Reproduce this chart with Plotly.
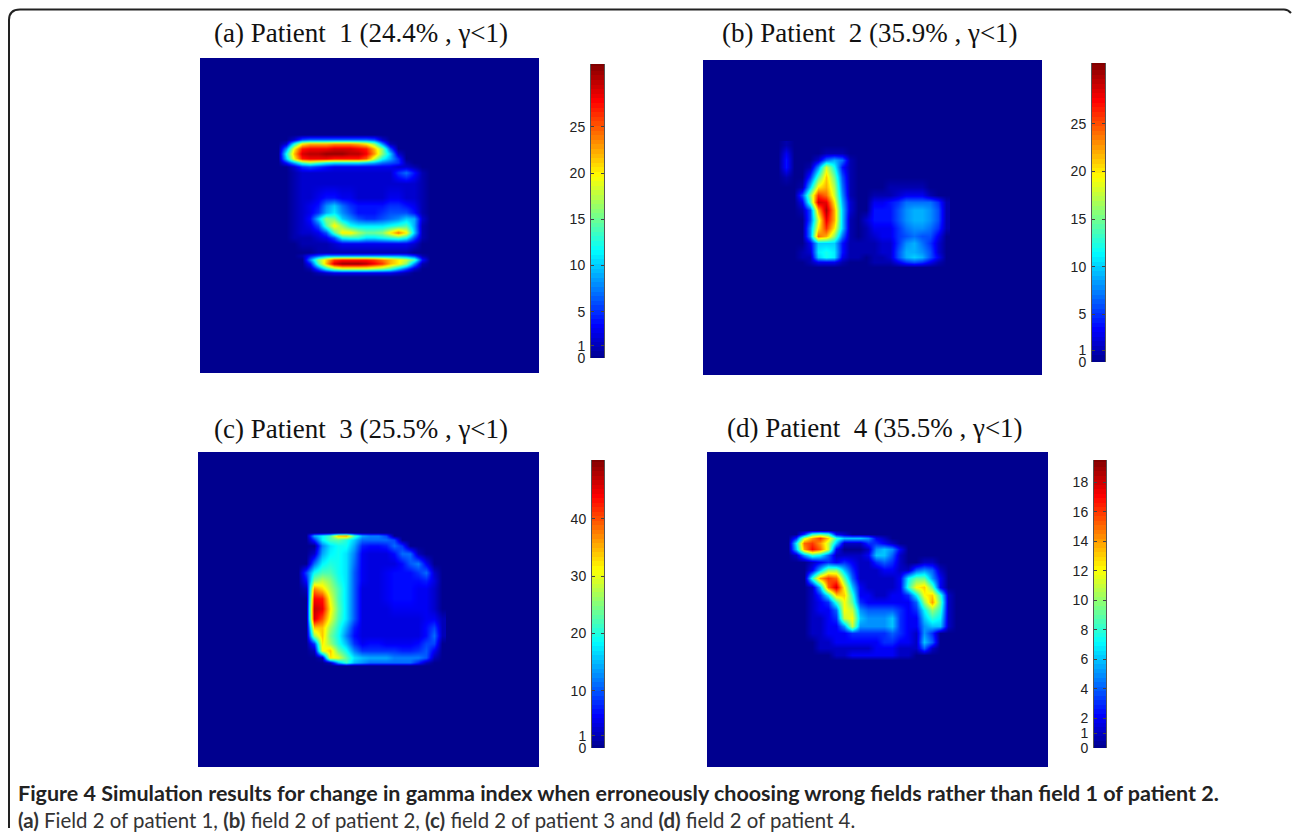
import plotly.graph_objects as go

W, H = 1292, 836
K = 0.9905  # vertical correction measured against the returned picture

titles = ["(a) Patient\u00a0\u00a01 (24.4%\u00a0, γ<1)", "(b) Patient\u00a0\u00a02 (35.9%\u00a0, γ<1)",
          "(c) Patient\u00a0\u00a03 (25.5%\u00a0, γ<1)", "(d) Patient\u00a0\u00a04 (35.5%\u00a0, γ<1)"]
caption_bold = "Figure 4 Simulation results for change in gamma index when erroneously choosing wrong fields rather than field 1 of patient 2."
caption_plain = "<b>(a)</b> Field 2 of patient 1, <b>(b)</b> field 2 of patient 2, <b>(c)</b> field 2 of patient 3 and <b>(d)</b> field 2 of patient 4."

tick_a = [0, 1, 5, 10, 15, 20, 25]
tick_b = [0, 1, 5, 10, 15, 20, 25]
tick_c = [0, 1, 10, 20, 30, 40]
tick_d = [0, 1, 2, 4, 6, 8, 10, 12, 14, 16, 18]
# where the "1" label sits: the picture pushes it clear of the "0"
label_one_a, label_one_b, label_one_c, label_one_d = 1.3, 1.25, 2.1, 1.0
zmax_a, zmax_b, zmax_c, zmax_d = 31.8, 31.4, 50.3, 19.5

a_cols = [270,278,286,294,302,310,318,326,334,342,350,358,366,374,382,390,398,406,414,422,430,438]
a_rows = [134,139,143,148,153,158,162,166,172,183,197,205,212,218,225,232,237,243,252,255,259,263,268,272,277]
a_vals = [
 [0,0,0,0,0,0,0,0,0,0,0,0,0,0,0,0,0,0,0,0,0,0],
 [0,0,0,2,6,7,7,7,7,7,7,7,7,6,2,0,0,0,0,0,0,0],
 [0,0,2,12,20,22,22,22,23,23,23,22,20,16,8,1,0,0,0,0,0,0],
 [0,0,8,20,27,28,28,28,29,29,29,28,27,22,16,6,0,0,0,0,0,0],
 [0,0,12,22,29,30,30,31,31,31,30,30,28,23,16,10,2,0,0,0,0,0],
 [0,0,10,20,27,28,28,28,27,27,27,27,25,18,12,9,5,0,0,0,0,0],
 [0,0,4,9,14,16,14,12,11,11,11,11,10,9,7,6,5,1,0,0,0,0],
 [0,0,0,2,5,6,5,4,3,3,3,3,3,3,3,3,2,2,1,0,0,0],
 [0,0,0,1,2,2,2,2,2,2,2,2,2,2,2,2,5,7,4,1,0,0],
 [0,0,0,1,2,2,2,2,2,2,2,2,2,2,2,2,2,2,2,1,0,0],
 [0,0,0,1,2,2,3,4,4,3,3,2,2,2,2,3,3,2,2,1,0,0],
 [0,0,0,1,2,3,4,8,10,7,5,4,4,4,4,5,5,4,3,1,0,0],
 [0,0,0,1,2,3,5,9,11,8,6,4,4,4,5,6,6,6,4,1,0,0],
 [0,0,0,1,2,4,10,16,15,10,8,6,5,5,6,7,8,10,9,2,0,0],
 [0,0,0,1,2,3,6,14,20,16,12,11,11,11,11,12,13,14,9,1,0,0],
 [0,0,0,1,2,2,3,6,14,20,20,17,15,15,16,20,24,20,10,1,0,0],
 [0,0,0,1,1,1,2,3,6,12,13,13,11,11,12,13,14,12,6,1,0,0],
 [0,0,0,0,1,1,1,1,2,3,3,3,3,3,3,3,3,3,2,0,0,0],
 [0,0,0,0,0,0,1,1,1,1,1,1,1,1,1,1,1,1,0,0,0,0],
 [0,0,0,0,1,4,6,8,8,8,8,8,8,8,8,8,8,7,5,1,0,0],
 [0,0,0,0,0,8,16,21,26,27,27,27,27,26,24,22,20,18,14,4,0,0],
 [0,0,0,0,0,4,14,22,29,31,31,31,30,28,26,22,20,16,8,1,0,0],
 [0,0,0,0,0,1,6,12,16,18,18,18,18,17,16,14,10,6,2,0,0,0],
 [0,0,0,0,0,0,1,2,3,3,3,3,3,3,3,3,2,1,0,0,0,0],
 [0,0,0,0,0,0,0,0,0,0,0,0,0,0,0,0,0,0,0,0,0,0],
]

b_cols = [770,778,786,794,802,810,818,826,834,842,850,858,866,874,882,890,898,906,914,922,930,938,946]
b_rows = [145,153,160,167,177,187,195,202,210,220,228,236,243,252,257,262,267]
b_vals = [
 [0,0,1,0,0,0,0,0,0,0,0,0,0,0,0,0,0,0,0,0,0,0,0],
 [0,0,3,0,0,0,0,1,1,1,0,0,0,0,0,0,0,0,0,0,0,0,0],
 [0,0,4,0,0,0,2,7,9,7,1,0,0,0,0,0,0,0,0,0,0,0,0],
 [0,0,4,0,0,1,8,18,12,4,1,0,0,0,0,0,0,0,0,0,0,0,0],
 [0,0,1,0,0,5,14,21,15,6,1,0,0,0,0,0,0,0,0,0,0,0,0],
 [0,0,0,0,1,10,20,22,17,7,1,0,0,0,0,1,1,1,1,1,0,0,0],
 [0,0,0,0,6,16,26,24,18,8,1,0,0,1,1,1,2,3,3,3,1,0,0],
 [0,0,0,0,3,14,29,28,20,9,2,0,0,3,3,4,5,7,7,7,7,5,1],
 [0,0,0,0,1,6,22,30,22,10,2,0,0,4,4,4,6,8,9,9,8,6,1],
 [0,0,0,0,0,6,18,28,22,10,1,0,2,4,4,4,6,8,9,9,8,6,1],
 [0,0,0,0,0,8,20,26,20,10,1,0,1,3,3,3,5,7,8,8,7,5,1],
 [0,0,0,0,0,8,24,22,16,7,1,0,1,2,3,3,5,6,7,6,6,3,0],
 [0,0,0,0,0,3,10,10,10,4,1,1,1,1,2,2,5,8,9,7,5,2,0],
 [0,0,0,0,1,2,11,12,11,4,1,1,1,1,2,2,6,9,9,8,6,2,0],
 [0,0,0,0,1,1,10,12,11,3,1,1,0,1,1,2,6,9,10,9,6,3,0],
 [0,0,0,0,0,1,3,3,3,1,0,0,0,1,1,1,3,5,6,5,3,1,0],
 [0,0,0,0,0,0,0,0,0,0,0,0,0,0,0,0,0,0,0,0,0,0,0],
]

c_cols = [290,298,306,314,322,330,338,346,354,362,370,378,386,394,402,410,418,426,434,442]
c_rows = [532,535,539,545,553,563,572,580,588,598,608,618,627,635,643,650,657,662,665]
c_vals = [
 [0,0,0,0,0,0,0,0,0,0,0,0,0,0,0,0,0,0,0,0],
 [0,0,0,14,18,22,34,36,22,14,12,12,9,0,0,0,0,0,0,0],
 [0,0,0,8,18,22,23,20,16,11,11,11,11,9,0,0,0,0,0,0],
 [0,0,0,0,12,17,19,19,14,7,6,6,7,11,8,0,0,0,0,0],
 [0,0,0,3,14,18,19,17,12,5,4,4,4,6,11,11,2,0,0,0],
 [0,0,0,11,18,20,19,17,11,5,4,4,4,4,6,10,12,5,0,0],
 [0,0,9,19,22,22,19,17,10,5,4,4,5,6,6,6,8,11,3,0],
 [0,0,6,25,28,25,20,17,10,5,4,4,5,6,6,6,6,7,4,0],
 [0,0,2,37,33,27,22,17,10,4,4,4,5,6,6,6,5,5,3,0],
 [0,0,0,44,43,30,22,17,10,4,4,4,5,6,6,6,5,5,3,0],
 [0,0,0,47,45,32,23,17,10,4,4,4,4,5,5,5,5,5,3,0],
 [0,0,0,46,40,30,22,17,10,4,4,4,4,4,4,4,4,5,5,2],
 [0,0,0,34,34,26,20,14,7,4,4,4,4,4,4,4,4,6,9,2],
 [0,0,0,26,34,24,19,12,6,4,4,4,4,4,4,4,4,6,11,2],
 [0,0,0,8,32,26,20,15,8,5,6,6,5,5,5,5,6,9,9,0],
 [0,0,0,2,30,34,24,19,12,8,8,8,8,8,7,7,8,10,5,0],
 [0,0,0,0,2,32,30,23,17,15,14,14,14,12,12,12,12,10,2,0],
 [0,0,0,0,0,2,14,21,15,13,11,11,11,11,11,11,7,2,0,0],
 [0,0,0,0,0,0,0,0,0,0,0,0,0,0,0,0,0,0,0,0],
]

d_cols = [780,788,796,804,812,820,828,836,844,852,860,868,876,884,892,900,908,916,924,932,940,948,956]
d_rows = [530,534,538,543,549,555,562,570,578,587,595,602,610,618,626,633,642,648,655,660]
d_vals = [
 [0,0,0,0,0,0,0,0,0,0,0,0,0,0,0,0,0,0,0,0,0,0,0],
 [0,0,0,3,8,9,8,2,1,0,0,0,0,0,0,0,0,0,0,0,0,0,0],
 [0,0,3,11,14,16,13,8,6,6,6,5,2,1,0,0,0,0,0,0,0,0,0],
 [0,0,7,15,16,14,11,6,1,1,1,3,3,2,1,0,0,0,0,0,0,0,0],
 [0,0,6,14,17,15,11,2,0,0,0,1,5,6,5,2,0,0,0,0,0,0,0],
 [0,0,1,5,8,7,4,1,1,1,1,2,6,6,4,1,0,0,0,0,0,0,0],
 [0,0,0,0,1,2,3,2,3,2,1,1,3,4,3,1,0,0,1,1,0,0,0],
 [0,0,0,0,2,6,10,10,6,3,1,1,1,2,2,1,1,4,5,4,1,0,0],
 [0,0,0,0,8,14,16,15,9,4,1,1,1,1,1,2,7,9,9,5,2,0,0],
 [0,0,0,0,1,6,15,18,12,6,2,1,1,1,1,2,8,12,13,9,2,0,0],
 [0,0,0,0,1,3,7,13,13,8,2,2,1,1,2,2,3,7,12,13,8,1,0],
 [0,0,0,0,1,2,3,8,12,9,3,2,2,2,2,2,2,4,10,14,9,1,0],
 [0,0,0,0,1,2,2,4,12,11,5,4,4,4,4,3,2,3,7,10,8,1,0],
 [0,0,0,0,1,1,2,3,11,12,6,5,5,5,6,3,2,2,6,8,7,1,0],
 [0,0,0,0,1,1,2,2,5,11,5,5,5,5,6,3,2,2,5,6,6,1,0],
 [0,0,0,0,1,1,2,2,2,3,3,3,3,3,4,3,2,1,5,3,0,0,0],
 [0,0,0,0,0,1,1,2,2,2,2,2,2,3,3,2,2,1,6,4,0,0,0],
 [0,0,0,0,0,1,1,1,1,1,1,1,2,2,2,1,1,1,4,1,0,0,0],
 [0,0,0,0,0,0,0,1,1,2,2,2,2,2,2,1,1,0,0,0,0,0,0],
 [0,0,0,0,0,0,0,0,0,0,0,0,0,0,0,0,0,0,0,0,0,0,0],
]

jet = [[0, "#00008F"], [0.111, "#0000FF"], [0.365, "#00FFFF"], [0.619, "#FFFF00"], [0.873, "#FF0000"], [1, "#800000"]]

# pixel boxes: left, right, top, bottom
panels = [(200, 539, 58, 373), (703, 1042, 60, 375), (198, 539, 452, 767), (707, 1048, 452, 767)]
bars = [(591, 604, 64, 358), (1092, 1105, 63, 362), (592, 604, 460, 748), (1094, 1106, 460, 748)]
title_pos = [(361, 33), (870, 33), (361, 429), (875, 428)]
grids = [(a_cols, a_rows, a_vals, zmax_a, tick_a, label_one_a), (b_cols, b_rows, b_vals, zmax_b, tick_b, label_one_b),
         (c_cols, c_rows, c_vals, zmax_c, tick_c, label_one_c), (d_cols, d_rows, d_vals, zmax_d, tick_d, label_one_d)]


def py(y):
    return 1 - y / (K * H)


fig = go.Figure()
layout = {}
ax = 1
annotations = []
for (cols, rows, vals, zmax, ticks, one), p, b, t, tp in zip(grids, panels, bars, titles, title_pos):
    xn, yn = ("" if ax == 1 else str(ax)), ("" if ax == 1 else str(ax))
    fig.add_trace(go.Heatmap(x=cols, y=rows, z=vals, zmin=0, zmax=zmax, colorscale=jet, zsmooth="best",
                             showscale=False, xaxis="x" + xn, yaxis="y" + yn))
    layout["xaxis" + xn] = dict(domain=[p[0] / W, p[1] / W], range=[p[0], p[1]], visible=False, anchor="y" + yn)
    layout["yaxis" + yn] = dict(domain=[py(p[3]), py(p[2])], range=[p[3], p[2]], visible=False, anchor="x" + xn)
    layout.setdefault("shapes", []).append(dict(type="rect", xref="paper", yref="paper", layer="below",
        x0=p[0] / W, x1=p[1] / W, y0=py(p[3]), y1=py(p[2]), fillcolor="#00008F", line_width=0))
    ax += 1
    xn = yn = str(ax)
    levels = [zmax * i / 64 for i in range(65)]
    fig.add_trace(go.Heatmap(x=[0, 1], y=levels, z=[[v, v] for v in levels], zmin=0, zmax=zmax, colorscale=jet,
                             showscale=False, xaxis="x" + xn, yaxis="y" + yn))
    layout["xaxis" + xn] = dict(domain=[b[0] / W, b[1] / W], range=[-0.5, 1.5], visible=False, anchor="y" + yn)
    layout["yaxis" + yn] = dict(domain=[py(b[3]), py(b[2])], range=[0, zmax], anchor="x" + xn,
                                tickmode="array", tickvals=[one if v == 1 else v for v in ticks],
                                ticktext=[str(v) for v in ticks],
                                ticks="inside", ticklen=3, tickcolor="#444", tickwidth=1,
                                showline=True, linecolor="#555", linewidth=1, mirror="ticks",
                                showgrid=False, zeroline=False, ticklabelstandoff=2,
                                tickfont=dict(family="Liberation Sans", size=14, color="#222"))
    ax += 1
    annotations.append(dict(text=t, x=tp[0] / W, y=py(tp[1]), xref="paper", yref="paper", showarrow=False,
                            xanchor="center", yanchor="middle",
                            font=dict(family="Liberation Serif", size=27, color="#111")))

annotations.append(dict(text="<b>" + caption_bold + "</b>", x=16 / W, y=py(793), xref="paper", yref="paper",
                        showarrow=False, xanchor="left", yanchor="middle",
                        font=dict(family="Lato", size=21.5, color="#222")))
annotations.append(dict(text=caption_plain, x=16 / W, y=py(820), xref="paper", yref="paper",
                        showarrow=False, xanchor="left", yanchor="middle",
                        font=dict(family="Lato", size=20.4, color="#333")))

layout["shapes"].append(dict(type="path", xref="paper", yref="paper", layer="above",
    path=f"M {9/W} 0 L {9/W} {py(20)} Q {9/W} {py(9.5)} {20/W} {py(9.5)} L {1284/W} {py(9.5)} Q {1288/W} {py(9.5)} {1291/W} {py(13)}",
    line=dict(color="#222", width=2)))

fig.update_layout(width=W, height=H, margin=dict(l=0, r=0, t=0, b=0), paper_bgcolor="white", plot_bgcolor="white",
                  annotations=annotations, **layout)
fig.write_html("out.html", config={"displayModeBar": False, "responsive": False},
               post_script="document.body.style.margin='0';document.documentElement.style.overflow='hidden';")
